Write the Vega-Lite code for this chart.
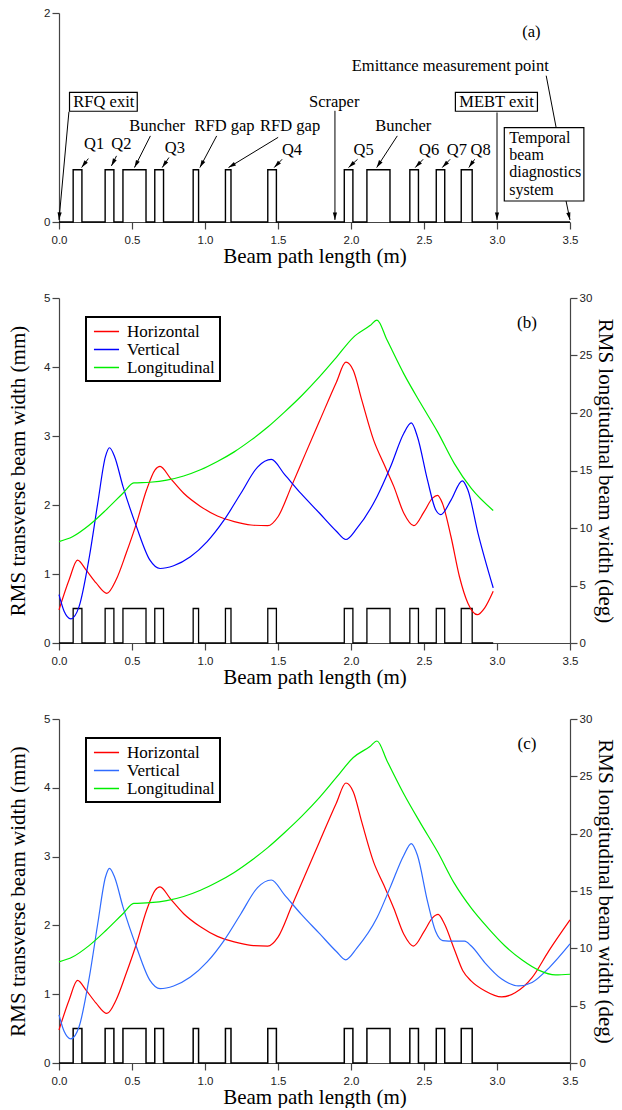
{
  "$schema": "https://vega.github.io/schema/vega-lite/v6.json",
  "background": "white",
  "padding": {"top": 7, "left": 7, "right": 8, "bottom": 0},
  "spacing": 25,
  "datasets": {
    "profA": [
      {"x": 0, "lvl": 0}, {"x": 0.097, "lvl": 0.5}, {"x": 0.157, "lvl": 0}, {"x": 0.316, "lvl": 0.5}, {"x": 0.376, "lvl": 0},
      {"x": 0.438, "lvl": 0.5}, {"x": 0.596, "lvl": 0}, {"x": 0.656, "lvl": 0.5}, {"x": 0.716, "lvl": 0},
      {"x": 0.919, "lvl": 0.5}, {"x": 0.956, "lvl": 0}, {"x": 1.14, "lvl": 0.5}, {"x": 1.178, "lvl": 0},
      {"x": 1.43, "lvl": 0.5}, {"x": 1.489, "lvl": 0}, {"x": 1.954, "lvl": 0.5}, {"x": 2.013, "lvl": 0},
      {"x": 2.109, "lvl": 0.5}, {"x": 2.267, "lvl": 0}, {"x": 2.403, "lvl": 0.5}, {"x": 2.462, "lvl": 0},
      {"x": 2.584, "lvl": 0.5}, {"x": 2.642, "lvl": 0}, {"x": 2.755, "lvl": 0.5}, {"x": 2.83, "lvl": 0}, {"x": 3.5, "lvl": 0}
    ],
    "profB": [
      {"x": 0, "lvl": 0}, {"x": 0.097, "lvl": 0.5}, {"x": 0.157, "lvl": 0}, {"x": 0.316, "lvl": 0.5}, {"x": 0.376, "lvl": 0},
      {"x": 0.438, "lvl": 0.5}, {"x": 0.596, "lvl": 0}, {"x": 0.656, "lvl": 0.5}, {"x": 0.716, "lvl": 0},
      {"x": 0.919, "lvl": 0.5}, {"x": 0.956, "lvl": 0}, {"x": 1.14, "lvl": 0.5}, {"x": 1.178, "lvl": 0},
      {"x": 1.43, "lvl": 0.5}, {"x": 1.489, "lvl": 0}, {"x": 1.954, "lvl": 0.5}, {"x": 2.013, "lvl": 0},
      {"x": 2.109, "lvl": 0.5}, {"x": 2.267, "lvl": 0}, {"x": 2.403, "lvl": 0.5}, {"x": 2.462, "lvl": 0},
      {"x": 2.584, "lvl": 0.5}, {"x": 2.642, "lvl": 0}, {"x": 2.755, "lvl": 0.5}, {"x": 2.83, "lvl": 0}, {"x": 2.974, "lvl": 0}
    ],
    "transB": [
      {"x": 0, "w": 0.48, "series": "Horizontal"}, {"x": 0.07, "w": 0.92, "series": "Horizontal"}, {"x": 0.127, "w": 1.2, "series": "Horizontal"},
      {"x": 0.185, "w": 1.06, "series": "Horizontal"}, {"x": 0.254, "w": 0.87, "series": "Horizontal"}, {"x": 0.328, "w": 0.72, "series": "Horizontal"},
      {"x": 0.392, "w": 0.92, "series": "Horizontal"}, {"x": 0.46, "w": 1.3, "series": "Horizontal"}, {"x": 0.53, "w": 1.73, "series": "Horizontal"},
      {"x": 0.6, "w": 2.22, "series": "Horizontal"}, {"x": 0.658, "w": 2.51, "series": "Horizontal"}, {"x": 0.692, "w": 2.56, "series": "Horizontal"},
      {"x": 0.762, "w": 2.39, "series": "Horizontal"}, {"x": 0.854, "w": 2.17, "series": "Horizontal"}, {"x": 0.969, "w": 1.98, "series": "Horizontal"},
      {"x": 1.085, "w": 1.84, "series": "Horizontal"}, {"x": 1.2, "w": 1.76, "series": "Horizontal"}, {"x": 1.315, "w": 1.71, "series": "Horizontal"},
      {"x": 1.43, "w": 1.7, "series": "Horizontal"}, {"x": 1.5, "w": 1.83, "series": "Horizontal"}, {"x": 1.592, "w": 2.27, "series": "Horizontal"},
      {"x": 1.685, "w": 2.73, "series": "Horizontal"}, {"x": 1.785, "w": 3.22, "series": "Horizontal"}, {"x": 1.9, "w": 3.78, "series": "Horizontal"},
      {"x": 1.965, "w": 4.07, "series": "Horizontal"}, {"x": 2.016, "w": 3.95, "series": "Horizontal"}, {"x": 2.074, "w": 3.52, "series": "Horizontal"},
      {"x": 2.155, "w": 2.94, "series": "Horizontal"}, {"x": 2.224, "w": 2.6, "series": "Horizontal"}, {"x": 2.293, "w": 2.27, "series": "Horizontal"},
      {"x": 2.362, "w": 1.88, "series": "Horizontal"}, {"x": 2.43, "w": 1.7, "series": "Horizontal"}, {"x": 2.5, "w": 1.9, "series": "Horizontal"},
      {"x": 2.558, "w": 2.1, "series": "Horizontal"}, {"x": 2.593, "w": 2.14, "series": "Horizontal"}, {"x": 2.627, "w": 2.02, "series": "Horizontal"},
      {"x": 2.685, "w": 1.54, "series": "Horizontal"}, {"x": 2.743, "w": 0.96, "series": "Horizontal"}, {"x": 2.8, "w": 0.58, "series": "Horizontal"},
      {"x": 2.865, "w": 0.41, "series": "Horizontal"}, {"x": 2.916, "w": 0.51, "series": "Horizontal"}, {"x": 2.974, "w": 0.75, "series": "Horizontal"},
      {"x": 0, "w": 0.7, "series": "Vertical"}, {"x": 0.035, "w": 0.46, "series": "Vertical"}, {"x": 0.081, "w": 0.35, "series": "Vertical"},
      {"x": 0.138, "w": 0.53, "series": "Vertical"}, {"x": 0.208, "w": 1.25, "series": "Vertical"}, {"x": 0.265, "w": 2.02, "series": "Vertical"},
      {"x": 0.318, "w": 2.7, "series": "Vertical"}, {"x": 0.346, "w": 2.83, "series": "Vertical"}, {"x": 0.381, "w": 2.7, "series": "Vertical"},
      {"x": 0.438, "w": 2.27, "series": "Vertical"}, {"x": 0.53, "w": 1.69, "series": "Vertical"}, {"x": 0.623, "w": 1.2, "series": "Vertical"},
      {"x": 0.692, "w": 1.08, "series": "Vertical"}, {"x": 0.785, "w": 1.12, "series": "Vertical"}, {"x": 0.9, "w": 1.25, "series": "Vertical"},
      {"x": 1.015, "w": 1.47, "series": "Vertical"}, {"x": 1.13, "w": 1.78, "series": "Vertical"}, {"x": 1.246, "w": 2.17, "series": "Vertical"},
      {"x": 1.36, "w": 2.55, "series": "Vertical"}, {"x": 1.454, "w": 2.66, "series": "Vertical"}, {"x": 1.546, "w": 2.44, "series": "Vertical"},
      {"x": 1.66, "w": 2.16, "series": "Vertical"}, {"x": 1.785, "w": 1.88, "series": "Vertical"}, {"x": 1.9, "w": 1.62, "series": "Vertical"},
      {"x": 1.965, "w": 1.5, "series": "Vertical"}, {"x": 2.04, "w": 1.66, "series": "Vertical"}, {"x": 2.178, "w": 2.12, "series": "Vertical"},
      {"x": 2.27, "w": 2.55, "series": "Vertical"}, {"x": 2.362, "w": 3.04, "series": "Vertical"}, {"x": 2.413, "w": 3.19, "series": "Vertical"},
      {"x": 2.455, "w": 2.99, "series": "Vertical"}, {"x": 2.524, "w": 2.36, "series": "Vertical"}, {"x": 2.58, "w": 1.93, "series": "Vertical"},
      {"x": 2.615, "w": 1.86, "series": "Vertical"}, {"x": 2.685, "w": 2.07, "series": "Vertical"}, {"x": 2.762, "w": 2.35, "series": "Vertical"},
      {"x": 2.8, "w": 2.22, "series": "Vertical"}, {"x": 2.87, "w": 1.59, "series": "Vertical"}, {"x": 2.974, "w": 0.8, "series": "Vertical"}
    ],
    "longB": [
      {"x": 0, "w": 8.82, "series": "Longitudinal"}, {"x": 0.092, "w": 9.24, "series": "Longitudinal"}, {"x": 0.208, "w": 10.26, "series": "Longitudinal"},
      {"x": 0.323, "w": 11.58, "series": "Longitudinal"}, {"x": 0.438, "w": 13.02, "series": "Longitudinal"}, {"x": 0.512, "w": 13.92, "series": "Longitudinal"},
      {"x": 0.623, "w": 13.98, "series": "Longitudinal"}, {"x": 0.738, "w": 14.16, "series": "Longitudinal"}, {"x": 0.854, "w": 14.52, "series": "Longitudinal"},
      {"x": 0.969, "w": 15.06, "series": "Longitudinal"}, {"x": 1.085, "w": 15.78, "series": "Longitudinal"}, {"x": 1.2, "w": 16.62, "series": "Longitudinal"},
      {"x": 1.315, "w": 17.64, "series": "Longitudinal"}, {"x": 1.43, "w": 18.78, "series": "Longitudinal"}, {"x": 1.546, "w": 20.1, "series": "Longitudinal"},
      {"x": 1.66, "w": 21.48, "series": "Longitudinal"}, {"x": 1.785, "w": 23.16, "series": "Longitudinal"}, {"x": 1.9, "w": 24.84, "series": "Longitudinal"},
      {"x": 2.016, "w": 26.58, "series": "Longitudinal"}, {"x": 2.13, "w": 27.6, "series": "Longitudinal"}, {"x": 2.178, "w": 28.08, "series": "Longitudinal"},
      {"x": 2.247, "w": 26.34, "series": "Longitudinal"}, {"x": 2.362, "w": 23.4, "series": "Longitudinal"}, {"x": 2.478, "w": 20.82, "series": "Longitudinal"},
      {"x": 2.593, "w": 18.36, "series": "Longitudinal"}, {"x": 2.708, "w": 15.6, "series": "Longitudinal"}, {"x": 2.824, "w": 13.44, "series": "Longitudinal"},
      {"x": 2.974, "w": 11.52, "series": "Longitudinal"}
    ],
    "transC": [
      {"x": 0, "w": 0.48, "series": "Horizontal"}, {"x": 0.07, "w": 0.92, "series": "Horizontal"}, {"x": 0.127, "w": 1.2, "series": "Horizontal"},
      {"x": 0.185, "w": 1.06, "series": "Horizontal"}, {"x": 0.254, "w": 0.87, "series": "Horizontal"}, {"x": 0.328, "w": 0.72, "series": "Horizontal"},
      {"x": 0.392, "w": 0.92, "series": "Horizontal"}, {"x": 0.46, "w": 1.3, "series": "Horizontal"}, {"x": 0.53, "w": 1.73, "series": "Horizontal"},
      {"x": 0.6, "w": 2.22, "series": "Horizontal"}, {"x": 0.658, "w": 2.51, "series": "Horizontal"}, {"x": 0.692, "w": 2.56, "series": "Horizontal"},
      {"x": 0.762, "w": 2.39, "series": "Horizontal"}, {"x": 0.854, "w": 2.17, "series": "Horizontal"}, {"x": 0.969, "w": 1.98, "series": "Horizontal"},
      {"x": 1.085, "w": 1.84, "series": "Horizontal"}, {"x": 1.2, "w": 1.76, "series": "Horizontal"}, {"x": 1.315, "w": 1.71, "series": "Horizontal"},
      {"x": 1.43, "w": 1.7, "series": "Horizontal"}, {"x": 1.5, "w": 1.83, "series": "Horizontal"}, {"x": 1.592, "w": 2.27, "series": "Horizontal"},
      {"x": 1.685, "w": 2.73, "series": "Horizontal"}, {"x": 1.785, "w": 3.22, "series": "Horizontal"}, {"x": 1.9, "w": 3.78, "series": "Horizontal"},
      {"x": 1.965, "w": 4.07, "series": "Horizontal"}, {"x": 2.016, "w": 3.94, "series": "Horizontal"}, {"x": 2.074, "w": 3.5, "series": "Horizontal"},
      {"x": 2.155, "w": 2.92, "series": "Horizontal"}, {"x": 2.224, "w": 2.59, "series": "Horizontal"}, {"x": 2.293, "w": 2.25, "series": "Horizontal"},
      {"x": 2.362, "w": 1.87, "series": "Horizontal"}, {"x": 2.427, "w": 1.7, "series": "Horizontal"}, {"x": 2.5, "w": 1.91, "series": "Horizontal"},
      {"x": 2.558, "w": 2.11, "series": "Horizontal"}, {"x": 2.597, "w": 2.16, "series": "Horizontal"}, {"x": 2.638, "w": 2.03, "series": "Horizontal"},
      {"x": 2.708, "w": 1.65, "series": "Horizontal"}, {"x": 2.766, "w": 1.34, "series": "Horizontal"}, {"x": 2.824, "w": 1.19, "series": "Horizontal"},
      {"x": 2.916, "w": 1.05, "series": "Horizontal"}, {"x": 3.032, "w": 0.96, "series": "Horizontal"}, {"x": 3.124, "w": 1.02, "series": "Horizontal"},
      {"x": 3.24, "w": 1.24, "series": "Horizontal"}, {"x": 3.355, "w": 1.63, "series": "Horizontal"}, {"x": 3.5, "w": 2.08, "series": "Horizontal"},
      {"x": 0, "w": 0.7, "series": "Vertical"}, {"x": 0.035, "w": 0.46, "series": "Vertical"}, {"x": 0.081, "w": 0.35, "series": "Vertical"},
      {"x": 0.138, "w": 0.53, "series": "Vertical"}, {"x": 0.208, "w": 1.25, "series": "Vertical"}, {"x": 0.265, "w": 2.02, "series": "Vertical"},
      {"x": 0.318, "w": 2.7, "series": "Vertical"}, {"x": 0.346, "w": 2.83, "series": "Vertical"}, {"x": 0.381, "w": 2.7, "series": "Vertical"},
      {"x": 0.438, "w": 2.27, "series": "Vertical"}, {"x": 0.53, "w": 1.69, "series": "Vertical"}, {"x": 0.623, "w": 1.2, "series": "Vertical"},
      {"x": 0.692, "w": 1.08, "series": "Vertical"}, {"x": 0.785, "w": 1.12, "series": "Vertical"}, {"x": 0.9, "w": 1.25, "series": "Vertical"},
      {"x": 1.015, "w": 1.47, "series": "Vertical"}, {"x": 1.13, "w": 1.78, "series": "Vertical"}, {"x": 1.246, "w": 2.17, "series": "Vertical"},
      {"x": 1.36, "w": 2.55, "series": "Vertical"}, {"x": 1.454, "w": 2.66, "series": "Vertical"}, {"x": 1.546, "w": 2.44, "series": "Vertical"},
      {"x": 1.66, "w": 2.16, "series": "Vertical"}, {"x": 1.785, "w": 1.88, "series": "Vertical"}, {"x": 1.9, "w": 1.62, "series": "Vertical"},
      {"x": 1.963, "w": 1.5, "series": "Vertical"}, {"x": 2.04, "w": 1.67, "series": "Vertical"}, {"x": 2.178, "w": 2.11, "series": "Vertical"},
      {"x": 2.27, "w": 2.56, "series": "Vertical"}, {"x": 2.362, "w": 3.02, "series": "Vertical"}, {"x": 2.413, "w": 3.19, "series": "Vertical"},
      {"x": 2.455, "w": 3.02, "series": "Vertical"}, {"x": 2.524, "w": 2.35, "series": "Vertical"}, {"x": 2.58, "w": 1.91, "series": "Vertical"},
      {"x": 2.628, "w": 1.78, "series": "Vertical"}, {"x": 2.708, "w": 1.77, "series": "Vertical"}, {"x": 2.778, "w": 1.77, "series": "Vertical"},
      {"x": 2.824, "w": 1.7, "series": "Vertical"}, {"x": 2.916, "w": 1.46, "series": "Vertical"}, {"x": 3.032, "w": 1.22, "series": "Vertical"},
      {"x": 3.147, "w": 1.12, "series": "Vertical"}, {"x": 3.24, "w": 1.17, "series": "Vertical"}, {"x": 3.355, "w": 1.38, "series": "Vertical"},
      {"x": 3.5, "w": 1.73, "series": "Vertical"}
    ],
    "longC": [
      {"x": 0, "w": 8.82, "series": "Longitudinal"}, {"x": 0.092, "w": 9.24, "series": "Longitudinal"}, {"x": 0.208, "w": 10.26, "series": "Longitudinal"},
      {"x": 0.323, "w": 11.58, "series": "Longitudinal"}, {"x": 0.438, "w": 13.02, "series": "Longitudinal"}, {"x": 0.512, "w": 13.92, "series": "Longitudinal"},
      {"x": 0.623, "w": 13.98, "series": "Longitudinal"}, {"x": 0.738, "w": 14.16, "series": "Longitudinal"}, {"x": 0.854, "w": 14.52, "series": "Longitudinal"},
      {"x": 0.969, "w": 15.06, "series": "Longitudinal"}, {"x": 1.085, "w": 15.78, "series": "Longitudinal"}, {"x": 1.2, "w": 16.62, "series": "Longitudinal"},
      {"x": 1.315, "w": 17.64, "series": "Longitudinal"}, {"x": 1.43, "w": 18.78, "series": "Longitudinal"}, {"x": 1.546, "w": 20.1, "series": "Longitudinal"},
      {"x": 1.66, "w": 21.48, "series": "Longitudinal"}, {"x": 1.785, "w": 23.16, "series": "Longitudinal"}, {"x": 1.9, "w": 24.9, "series": "Longitudinal"},
      {"x": 2.016, "w": 26.64, "series": "Longitudinal"}, {"x": 2.13, "w": 27.6, "series": "Longitudinal"}, {"x": 2.178, "w": 28.08, "series": "Longitudinal"},
      {"x": 2.247, "w": 26.34, "series": "Longitudinal"}, {"x": 2.362, "w": 23.46, "series": "Longitudinal"}, {"x": 2.478, "w": 20.88, "series": "Longitudinal"},
      {"x": 2.593, "w": 18.42, "series": "Longitudinal"}, {"x": 2.708, "w": 15.66, "series": "Longitudinal"}, {"x": 2.824, "w": 13.5, "series": "Longitudinal"},
      {"x": 2.939, "w": 11.76, "series": "Longitudinal"}, {"x": 3.055, "w": 10.2, "series": "Longitudinal"}, {"x": 3.17, "w": 9.0, "series": "Longitudinal"},
      {"x": 3.285, "w": 8.1, "series": "Longitudinal"}, {"x": 3.4, "w": 7.68, "series": "Longitudinal"}, {"x": 3.5, "w": 7.74, "series": "Longitudinal"}
    ],
    "labels": [
      {"t": "(a)", "x": 3.236, "y": 1.815, "g": "c"},
      {"t": "Emittance measurement point", "x": 2.68, "y": 1.495, "g": "c"},
      {"t": "RFQ exit", "x": 0.307, "y": 1.15, "g": "c"},
      {"t": "Scraper", "x": 1.885, "y": 1.144, "g": "c"},
      {"t": "MEBT exit", "x": 2.997, "y": 1.15, "g": "c"},
      {"t": "Q1", "x": 0.24, "y": 0.744, "g": "c"},
      {"t": "Q2", "x": 0.427, "y": 0.744, "g": "c"},
      {"t": "Buncher", "x": 0.672, "y": 0.92, "g": "c"},
      {"t": "Q3", "x": 0.794, "y": 0.712, "g": "c"},
      {"t": "RFD gap", "x": 1.134, "y": 0.92, "g": "c"},
      {"t": "RFD gap", "x": 1.583, "y": 0.92, "g": "c"},
      {"t": "Q4", "x": 1.596, "y": 0.69, "g": "c"},
      {"t": "Q5", "x": 2.086, "y": 0.69, "g": "c"},
      {"t": "Buncher", "x": 2.358, "y": 0.92, "g": "c"},
      {"t": "Q6", "x": 2.535, "y": 0.69, "g": "c"},
      {"t": "Q7", "x": 2.725, "y": 0.69, "g": "c"},
      {"t": "Q8", "x": 2.888, "y": 0.69, "g": "c"},
      {"t": "Temporal", "x": 3.084, "y": 0.805, "g": "l"},
      {"t": "beam", "x": 3.084, "y": 0.643, "g": "l"},
      {"t": "diagnostics", "x": 3.084, "y": 0.476, "g": "l"},
      {"t": "system", "x": 3.084, "y": 0.31, "g": "l"}
    ],
    "boxes": [
      {"x1": 0.072, "x2": 0.536, "y1": 1.06, "y2": 1.24},
      {"x1": 2.715, "x2": 3.277, "y1": 1.06, "y2": 1.24},
      {"x1": 3.05, "x2": 3.595, "y1": 0.201, "y2": 0.904}
    ],
    "arrows": [
      {"x": 0.068, "y": 1.055, "x2": 0.0, "y2": 0.02, "ang": 185},
      {"x": 0.201, "y": 0.607, "x2": 0.155, "y2": 0.521, "ang": 217},
      {"x": 0.394, "y": 0.633, "x2": 0.359, "y2": 0.537, "ang": 207},
      {"x": 0.626, "y": 0.824, "x2": 0.517, "y2": 0.521, "ang": 207},
      {"x": 0.753, "y": 0.617, "x2": 0.707, "y2": 0.521, "ang": 214},
      {"x": 1.08, "y": 0.824, "x2": 0.965, "y2": 0.521, "ang": 208},
      {"x": 1.501, "y": 0.81, "x2": 1.161, "y2": 0.521, "ang": 239},
      {"x": 1.528, "y": 0.6, "x2": 1.474, "y2": 0.521, "ang": 224},
      {"x": 1.89, "y": 1.064, "x2": 1.89, "y2": 0.02, "ang": 180},
      {"x": 2.045, "y": 0.6, "x2": 1.983, "y2": 0.521, "ang": 228},
      {"x": 2.317, "y": 0.824, "x2": 2.176, "y2": 0.521, "ang": 213},
      {"x": 2.494, "y": 0.6, "x2": 2.44, "y2": 0.521, "ang": 224},
      {"x": 2.679, "y": 0.6, "x2": 2.625, "y2": 0.521, "ang": 224},
      {"x": 2.847, "y": 0.6, "x2": 2.807, "y2": 0.521, "ang": 215},
      {"x": 3.0, "y": 1.048, "x2": 3.0, "y2": 0.02, "ang": 180},
      {"x": 3.337, "y": 1.4, "x2": 3.405, "y2": 0.904, "ang": null},
      {"x": 3.473, "y": 0.201, "x2": 3.5, "y2": 0.02, "ang": 167}
    ],
    "tags": [
      {"t": "(b)", "x": 3.205, "y": 4.64, "p": "b"},
      {"t": "(c)", "x": 3.205, "y": 4.64, "p": "c"}
    ]
  },
  "vconcat": [
    {
      "width": 511,
      "height": 209,
      "layer": [
        {
          "data": {"name": "profA"},
          "mark": {"type": "line", "interpolate": "step-after", "color": "black", "strokeWidth": 1.4},
          "encoding": {
            "x": {"field": "x", "type": "quantitative", "title": "Beam path length (m)", "scale": {"domain": [0, 3.5]}, "axis": {"values": [0, 0.5, 1, 1.5, 2, 2.5, 3, 3.5], "format": ".1f"}},
            "y": {"field": "lvl", "type": "quantitative", "title": null, "scale": {"domain": [0, 2]}, "axis": {"values": [0, 1, 2], "format": "d"}}
          }
        },
        {
          "data": {"name": "boxes"},
          "mark": {"type": "rect", "fill": "white", "stroke": "black", "strokeWidth": 1.2},
          "encoding": {
            "x": {"field": "x1", "type": "quantitative", "title": "Beam path length (m)"},
            "x2": {"field": "x2"},
            "y": {"field": "y1", "type": "quantitative", "title": null},
            "y2": {"field": "y2"}
          }
        },
        {
          "data": {"name": "arrows"},
          "mark": {"type": "rule", "color": "black", "strokeWidth": 1},
          "encoding": {
            "x": {"field": "x", "type": "quantitative", "title": "Beam path length (m)"},
            "y": {"field": "y", "type": "quantitative", "title": null},
            "x2": {"field": "x2"},
            "y2": {"field": "y2"}
          }
        },
        {
          "data": {"name": "arrows"},
          "transform": [{"filter": "isValid(datum.ang)"}],
          "mark": {"type": "point", "filled": true, "color": "black", "opacity": 1, "size": 36, "shape": "M0,0L0.7,2.5L-0.7,2.5Z"},
          "encoding": {
            "x": {"field": "x2", "type": "quantitative", "title": "Beam path length (m)"},
            "y": {"field": "y2", "type": "quantitative", "title": null},
            "angle": {"field": "ang", "type": "quantitative", "scale": null}
          }
        },
        {
          "data": {"name": "labels"},
          "transform": [{"filter": "datum.g == 'c'"}],
          "mark": {"type": "text", "font": "Liberation Serif", "fontSize": 16.5, "align": "center", "baseline": "middle", "color": "black"},
          "encoding": {
            "x": {"field": "x", "type": "quantitative", "title": "Beam path length (m)"},
            "y": {"field": "y", "type": "quantitative", "title": null},
            "text": {"field": "t"}
          }
        },
        {
          "data": {"name": "labels"},
          "transform": [{"filter": "datum.g == 'l'"}],
          "mark": {"type": "text", "font": "Liberation Serif", "fontSize": 16, "align": "left", "baseline": "middle", "color": "black"},
          "encoding": {
            "x": {"field": "x", "type": "quantitative", "title": "Beam path length (m)"},
            "y": {"field": "y", "type": "quantitative", "title": null},
            "text": {"field": "t"}
          }
        }
      ]
    },
    {
      "width": 511,
      "height": 345,
      "layer": [
        {
          "data": {"name": "profB"},
          "mark": {"type": "line", "interpolate": "step-after", "color": "black", "strokeWidth": 1.3},
          "encoding": {
            "x": {"field": "x", "type": "quantitative", "title": "Beam path length (m)", "scale": {"domain": [0, 3.5]}, "axis": {"values": [0, 0.5, 1, 1.5, 2, 2.5, 3, 3.5], "format": ".1f"}},
            "y": {"field": "lvl", "type": "quantitative", "scale": {"domain": [0, 5]}, "axis": null}
          }
        },
        {
          "data": {"name": "transB"},
          "mark": {"type": "line", "interpolate": "monotone", "strokeWidth": 1.2},
          "encoding": {
            "x": {"field": "x", "type": "quantitative", "title": "Beam path length (m)"},
            "y": {"field": "w", "type": "quantitative", "title": "RMS transverse beam width (mm)", "scale": {"domain": [0, 5]}, "axis": {"orient": "left", "values": [0, 1, 2, 3, 4, 5]}},
            "color": {"field": "series", "type": "nominal", "scale": {"domain": ["Horizontal", "Vertical", "Longitudinal"], "range": ["#ff0000", "#0000ff", "#00ee00"]}, "legend": {"title": null}}
          }
        },
        {
          "data": {"name": "longB"},
          "mark": {"type": "line", "interpolate": "monotone", "strokeWidth": 1.2},
          "encoding": {
            "x": {"field": "x", "type": "quantitative", "title": "Beam path length (m)"},
            "y": {"field": "w", "type": "quantitative", "title": "RMS longitudinal beam width (deg)", "scale": {"domain": [0, 30]}, "axis": {"orient": "right", "values": [0, 5, 10, 15, 20, 25, 30]}},
            "color": {"field": "series", "type": "nominal"}
          }
        },
        {
          "data": {"name": "tags"},
          "transform": [{"filter": "datum.p == 'b'"}],
          "mark": {"type": "text", "font": "Liberation Serif", "fontSize": 17, "align": "center", "baseline": "middle", "color": "black"},
          "encoding": {
            "x": {"field": "x", "type": "quantitative", "title": "Beam path length (m)"},
            "y": {"field": "y", "type": "quantitative", "scale": {"domain": [0, 5]}, "axis": null},
            "text": {"field": "t"}
          }
        }
      ],
      "resolve": {"scale": {"y": "independent"}, "axis": {"y": "independent"}}
    },
    {
      "width": 511,
      "height": 344,
      "layer": [
        {
          "data": {"name": "profA"},
          "mark": {"type": "line", "interpolate": "step-after", "color": "black", "strokeWidth": 1.5},
          "encoding": {
            "x": {"field": "x", "type": "quantitative", "title": "Beam path length (m)", "scale": {"domain": [0, 3.5]}, "axis": {"values": [0, 0.5, 1, 1.5, 2, 2.5, 3, 3.5], "format": ".1f"}},
            "y": {"field": "lvl", "type": "quantitative", "scale": {"domain": [0, 5]}, "axis": null}
          }
        },
        {
          "data": {"name": "transC"},
          "mark": {"type": "line", "interpolate": "monotone", "strokeWidth": 1.2},
          "encoding": {
            "x": {"field": "x", "type": "quantitative", "title": "Beam path length (m)"},
            "y": {"field": "w", "type": "quantitative", "title": "RMS transverse beam width (mm)", "scale": {"domain": [0, 5]}, "axis": {"orient": "left", "values": [0, 1, 2, 3, 4, 5]}},
            "color": {"field": "series", "type": "nominal", "scale": {"domain": ["Horizontal", "Vertical", "Longitudinal"], "range": ["#ff0000", "#2f6bff", "#00ee00"]}, "legend": {"title": null}}
          }
        },
        {
          "data": {"name": "longC"},
          "mark": {"type": "line", "interpolate": "monotone", "strokeWidth": 1.2},
          "encoding": {
            "x": {"field": "x", "type": "quantitative", "title": "Beam path length (m)"},
            "y": {"field": "w", "type": "quantitative", "title": "RMS longitudinal beam width (deg)", "scale": {"domain": [0, 30]}, "axis": {"orient": "right", "values": [0, 5, 10, 15, 20, 25, 30]}},
            "color": {"field": "series", "type": "nominal"}
          }
        },
        {
          "data": {"name": "tags"},
          "transform": [{"filter": "datum.p == 'c'"}],
          "mark": {"type": "text", "font": "Liberation Serif", "fontSize": 17, "align": "center", "baseline": "middle", "color": "black"},
          "encoding": {
            "x": {"field": "x", "type": "quantitative", "title": "Beam path length (m)"},
            "y": {"field": "y", "type": "quantitative", "scale": {"domain": [0, 5]}, "axis": null},
            "text": {"field": "t"}
          }
        }
      ],
      "resolve": {"scale": {"y": "independent"}, "axis": {"y": "independent"}}
    }
  ],
  "resolve": {"scale": {"color": "independent"}, "legend": {"color": "independent"}},
  "config": {
    "view": {"stroke": null},
    "axis": {
      "grid": false,
      "labelFont": "Liberation Sans",
      "labelFontSize": 11.5,
      "labelColor": "#222",
      "titleFont": "Liberation Serif",
      "titleFontSize": 21,
      "titleFontWeight": "normal",
      "titleColor": "#000",
      "domainColor": "#444",
      "tickColor": "#444",
      "domainWidth": 1.2,
      "tickWidth": 1.2,
      "tickSize": 7,
      "labelPadding": 2
    },
    "axisX": {"titlePadding": 0, "labelPadding": 5, "labelFlush": false},
    "axisLeft": {"titlePadding": 15},
    "axisRight": {"titlePadding": 3},
    "legend": {
      "orient": "none",
      "legendX": 27,
      "legendY": 19,
      "strokeColor": "black",
      "strokeWidth": 2,
      "fillColor": "white",
      "padding": 5,
      "symbolType": "M-1.5,0L1.5,0",
      "symbolStrokeWidth": 1.5,
      "symbolSize": 280,
      "symbolOffset": 6,
      "labelFont": "Liberation Serif",
      "labelFontSize": 17,
      "labelColor": "black",
      "labelOffset": 11,
      "rowPadding": -3
    }
  }
}
